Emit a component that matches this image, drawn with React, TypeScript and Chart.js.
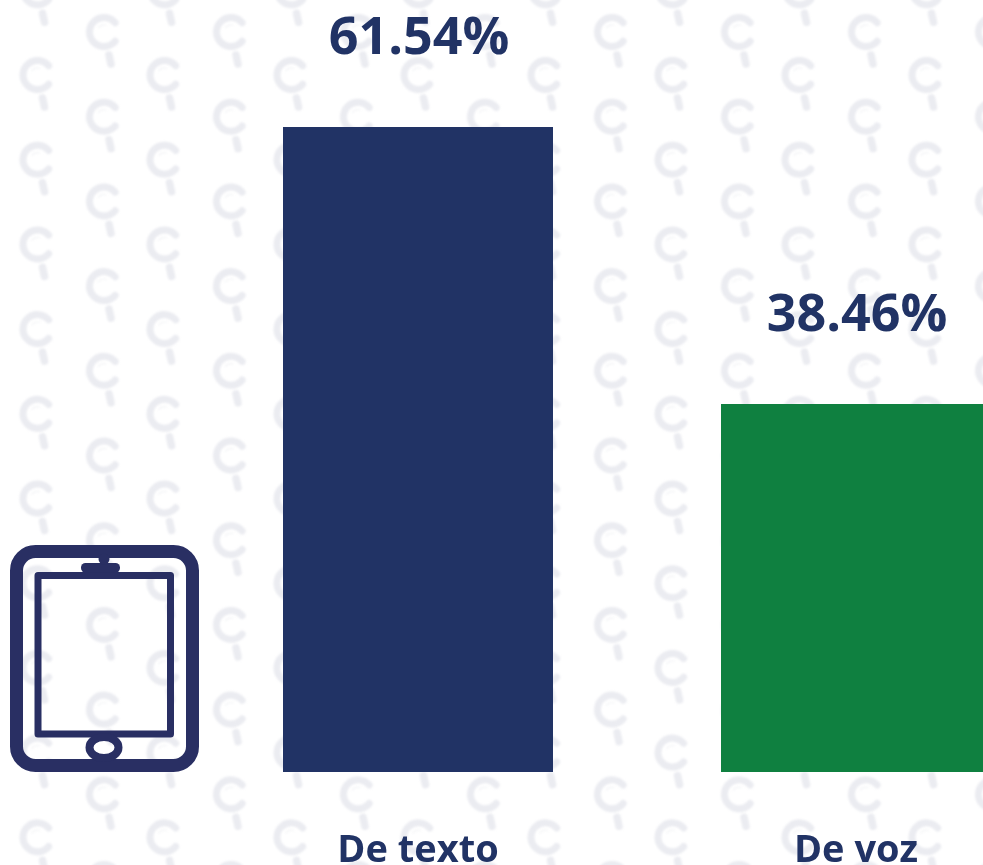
import React, { useEffect, useRef } from "react";
import { Chart, registerables } from "chart.js";

Chart.register(...registerables);

const categories = ["De texto", "De voz"];
const values = [61.54, 38.46];
const barColors = ["#213365", "#0f8040"];
const labelFont = "700 52px 'Open Sans', sans-serif";
const tickFontFamily = "'Open Sans', sans-serif";
const textColor = "#213365";
const iconColor = "#292f63";
const markColor = "#ebecf1";

function drawMark(ctx: CanvasRenderingContext2D, x: number, y: number) {
  ctx.save();
  ctx.translate(x, y);
  ctx.strokeStyle = markColor;
  ctx.lineCap = "round";
  ctx.lineWidth = 7;
  ctx.beginPath();
  ctx.arc(0, 0, 14.5, -Math.PI * 0.22, Math.PI * 0.22, true);
  ctx.stroke();
  ctx.lineWidth = 7.5;
  ctx.beginPath();
  ctx.moveTo(5, 23);
  ctx.lineTo(7, 32);
  ctx.stroke();
  ctx.lineWidth = 1.2;
  ctx.strokeStyle = "#f3f4f6";
  ctx.beginPath();
  ctx.arc(0, 0, 7, -Math.PI * 0.8, -Math.PI * 0.4);
  ctx.stroke();
  ctx.restore();
}

const backdrop = {
  id: "backdrop",
  beforeDraw(chart: Chart) {
    const ctx = chart.ctx;
    ctx.save();
    ctx.fillStyle = "#ffffff";
    ctx.fillRect(0, 0, chart.width, chart.height);
    ctx.filter = "blur(0.8px)";
    for (let k = 0; k < 9; k++) {
      for (let j = -1; j < 11; j++) {
        drawMark(ctx, 37.5 + 127 * k, 75 + 84.7 * j);
        drawMark(ctx, 104 + 127 * k, 32 + 84.7 * j);
      }
    }
    ctx.filter = "none";
    ctx.strokeStyle = iconColor;
    ctx.fillStyle = iconColor;
    ctx.lineWidth = 13;
    ctx.beginPath();
    ctx.roundRect(16.5, 551.5, 176, 214, 19);
    ctx.stroke();
    ctx.lineWidth = 7;
    ctx.lineJoin = "round";
    ctx.beginPath();
    ctx.rect(38, 575.5, 132.5, 158.5);
    ctx.stroke();
    ctx.beginPath();
    ctx.roundRect(81, 563, 39, 9.5, 4.5);
    ctx.fill();
    ctx.beginPath();
    ctx.arc(104, 559, 5.5, 0, Math.PI * 2);
    ctx.fill();
    ctx.lineWidth = 8;
    ctx.beginPath();
    ctx.ellipse(104, 747.5, 14.5, 10.5, 0, 0, Math.PI * 2);
    ctx.stroke();
    ctx.restore();
  },
};

const valueLabels = {
  id: "valueLabels",
  afterDatasetsDraw(chart: Chart) {
    const ctx = chart.ctx;
    const meta = chart.getDatasetMeta(0);
    ctx.save();
    ctx.font = labelFont;
    ctx.fillStyle = textColor;
    ctx.textAlign = "center";
    ctx.textBaseline = "alphabetic";
    meta.data.forEach((bar: any, i: number) => {
      ctx.fillText(values[i].toFixed(2) + "%", bar.x + 1, bar.y - 73);
    });
    ctx.restore();
  },
};

export default function App() {
  const ref = useRef<HTMLCanvasElement>(null);
  useEffect(() => {
    document.body.style.margin = "0";
    document.body.style.overflow = "hidden";
    const chart = new Chart(ref.current!, {
      type: "bar",
      data: {
        labels: categories,
        datasets: [
          {
            data: values,
            backgroundColor: barColors,
            borderWidth: 0,
            barPercentage: 1,
            categoryPercentage: 270 / 438,
          },
        ],
      },
      options: {
        responsive: false,
        animation: false,
        layout: { padding: { left: 199, right: 25, top: 0, bottom: 0 } },
        plugins: { legend: { display: false }, tooltip: { enabled: false } },
        scales: {
          y: { display: false, min: 7.8, max: 72.13 },
          x: {
            grid: { display: false },
            border: { display: false },
            afterFit(scale: any) {
              scale.height = 93;
            },
            ticks: {
              color: textColor,
              padding: 48,
              maxRotation: 0,
              font: { family: tickFontFamily, weight: "bold", size: 38 },
            },
          },
        },
      },
      plugins: [backdrop, valueLabels],
    } as any);
    return () => chart.destroy();
  }, []);
  return (
    <div style={{ width: 983, height: 865, overflow: "hidden" }}>
      <canvas ref={ref} width={1100} height={865} style={{ display: "block" }} />
    </div>
  );
}
